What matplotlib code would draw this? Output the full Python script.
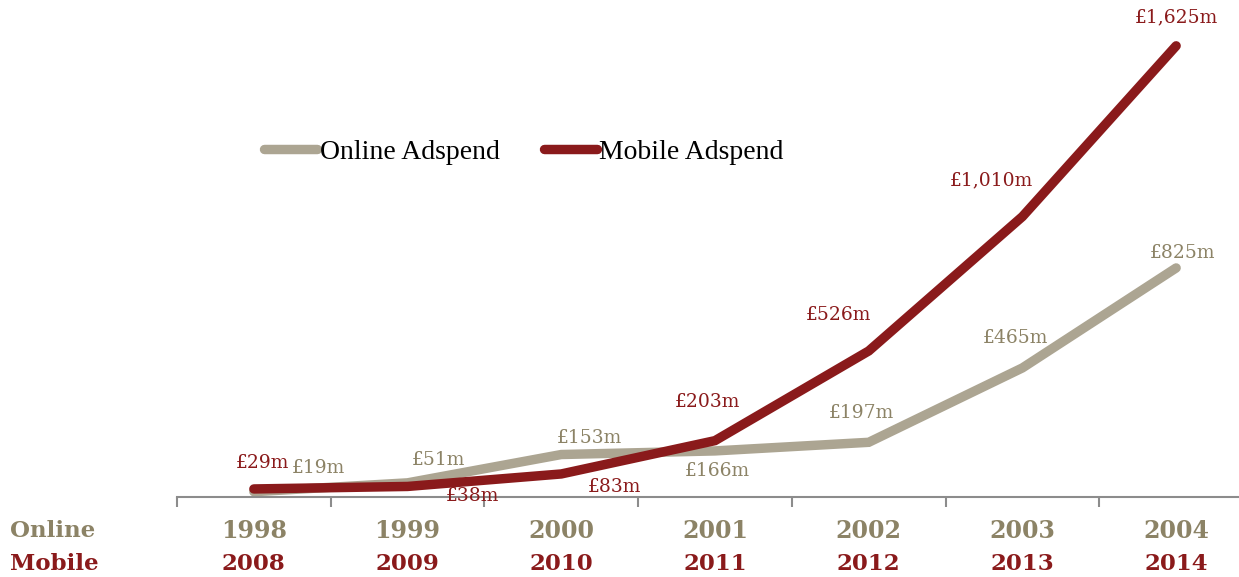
import matplotlib
matplotlib.use('Agg')
import matplotlib.pyplot as plt

online_years = ['1998', '1999', '2000', '2001', '2002', '2003', '2004']
mobile_years = ['2008', '2009', '2010', '2011', '2012', '2013', '2014']
online = [19, 51, 153, 166, 197, 465, 825]
mobile = [29, 38, 83, 203, 526, 1010, 1625]
online_labels = ['£19m', '£51m', '£153m', '£166m', '£197m', '£465m', '£825m']
mobile_labels = ['£29m', '£38m', '£83m', '£203m', '£526m', '£1,010m', '£1,625m']

c_on_line = '#aca592'
c_on_text = '#8c8366'
c_mob = '#8a1a1b'
serif = 'DejaVu Serif'

# label offsets in pixels (dx, dy)
off_on = [(65, 24), (31, 23), (28, 17), (2, -20), (-7, 29), (-7, 30), (6, 15)]
off_mob = [(9, 26), (65, -10), (53, -13), (-8, 39), (-30, 36), (-31, 36), (0, 28)]

fig = plt.figure(figsize=(12.39, 5.77), dpi=100)
ax = fig.add_axes([177/1239, 80/577, 1076/1239, 472/577])
x = range(len(online))

ax.plot(x, online, color=c_on_line, lw=6.8, solid_capstyle='round',
        solid_joinstyle='miter', label='Online Adspend', zorder=2)
ax.plot(x, mobile, color=c_mob, lw=6.8, solid_capstyle='round',
        solid_joinstyle='miter', label='Mobile Adspend', zorder=3)

for i, (v, t) in enumerate(zip(online, online_labels)):
    ax.annotate(t, (i, v), xytext=off_on[i], textcoords='offset pixels',
                ha='center', va='center', color=c_on_text, fontsize=13.5,
                family=serif, zorder=4)
for i, (v, t) in enumerate(zip(mobile, mobile_labels)):
    ax.annotate(t, (i, v), xytext=off_mob[i], textcoords='offset pixels',
                ha='center', va='center', color=c_mob, fontsize=13.5,
                family=serif, zorder=4)

ax.set_xlim(-0.5, 6.5)
ax.set_ylim(0, 1700)
ax.set_yticks([])
for s in ['left', 'right', 'top']:
    ax.spines[s].set_visible(False)
ax.spines['bottom'].set_color('#8c8c8c')
ax.spines['bottom'].set_linewidth(1.5)
ax.set_xticks([i - 0.5 for i in range(8)])
ax.set_xticklabels([])
ax.tick_params(axis='x', length=7, width=1.5, color='#8c8c8c', direction='out')

# two rows of year labels under each category
for i in x:
    ax.annotate(online_years[i], (i, 0), xycoords=ax.get_xaxis_transform(),
                xytext=(0, -34), textcoords='offset pixels',
                ha='center', va='center', fontsize=17, fontweight='bold',
                color=c_on_text, family=serif)
    ax.annotate(mobile_years[i], (i, 0), xycoords=ax.get_xaxis_transform(),
                xytext=(0, -67), textcoords='offset pixels',
                ha='center', va='center', fontsize=16.5, fontweight='bold',
                color=c_mob, family=serif)
fig.text(10/1239, 1 - 531/577, 'Online', ha='left', va='center', fontsize=16.5,
         fontweight='bold', color=c_on_text, family=serif)
fig.text(10/1239, 1 - 564/577, 'Mobile', ha='left', va='center', fontsize=16.5,
         fontweight='bold', color=c_mob, family=serif)

leg = ax.legend(loc='center left', bbox_to_anchor=(62/1076, 1 - 152/472 + 25/472),
                ncol=2, frameon=False, handlelength=1.9, handletextpad=0.1,
                columnspacing=1.6, prop={'family': 'Liberation Serif', 'size': 20})
plt.savefig('out.png', dpi=100)
